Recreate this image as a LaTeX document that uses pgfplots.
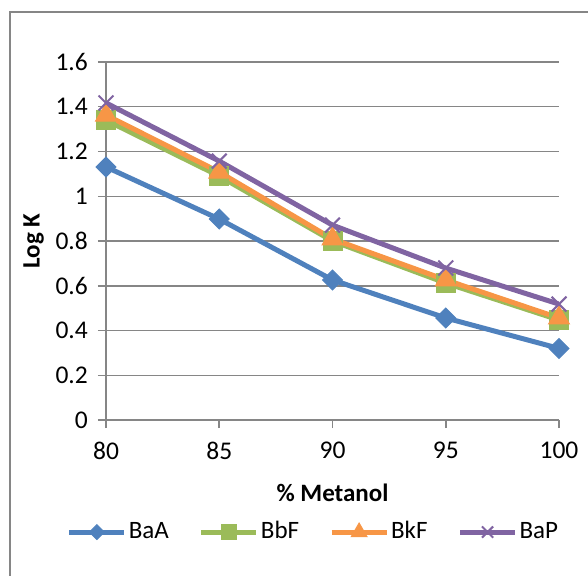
\documentclass[border=0pt]{standalone}
\usepackage{pgfplots}
\pgfplotsset{compat=1.18}
\usepackage{fontspec}
\setmainfont{Carlito}
\definecolor{cA}{HTML}{4F81BD}
\definecolor{cB}{HTML}{9BBB59}
\definecolor{cK}{HTML}{F79646}
\definecolor{cP}{HTML}{8064A2}
\definecolor{gridc}{HTML}{868686}
\begin{document}
\fontsize{25bp}{30bp}\selectfont
\begin{tikzpicture}
\useasboundingbox (-106bp,-156bp) rectangle (482bp,420bp);
\begin{axis}[
  at={(0bp,0bp)}, anchor=south west,
  scale only axis, width=453bp, height=358bp,
  xmin=80, xmax=100, ymin=0, ymax=1.6,
  xtick={80,85,90,95,100},
  ytick={0,0.2,0.4,0.6,0.8,1,1.2,1.4,1.6},
  yticklabels={0,0.2,0.4,0.6,0.8,1,1.2,1.4,1.6},
  /pgf/number format/assume math mode=true,
  axis lines*=left,
  axis line style={gridc, line width=1.5bp},
  ymajorgrids, grid style={gridc, line width=1.5bp},
  tick align=outside, major tick length=8bp,
  tick style={gridc, line width=1.5bp},
  tick label style={font=\fontsize{25.5bp}{30bp}\selectfont},
  yticklabel style={inner sep=0pt, xshift=-10bp},
  xticklabel style={inner sep=0pt, yshift=-14bp},
  xlabel={\textbf{\% Metanol}},
  ylabel={\textbf{Log K}},
  label style={font=\fontsize{25bp}{30bp}\selectfont},
  xlabel style={at={(axis description cs:0.5,-0.204)}, anchor=center},
  ylabel style={at={(axis description cs:-0.16,0.5)}, anchor=center},
  legend columns=4,
  legend style={draw=none, fill=none, at={(axis description cs:0.458,-0.313)}, anchor=center,
    font=\fontsize{25bp}{30bp}\selectfont,
    nodes={inner sep=2bp},
    /tikz/every even column/.append style={column sep=28bp}},
  legend cell align=left,
  legend image code/.code={
    \draw[#1, mark=none] (0bp,0bp) -- (55bp,0bp);
    \draw[#1, every mark/.append style={scale=0.75}] plot coordinates {(27.5bp,0bp)};
  },
]
\addplot[cA, line width=5bp, mark=square*, mark size=7bp, mark options={rotate=45, line width=1bp}]
  coordinates {(80,1.131) (85,0.898) (90,0.626) (95,0.456) (100,0.320)};
\addlegendentry{BaA}
\addplot[cB, line width=5bp, mark=square*, mark size=9.5bp, mark options={line width=1bp}]
  coordinates {(80,1.340) (85,1.090) (90,0.800) (95,0.612) (100,0.447)};
\addlegendentry{BbF}
\addplot[cK, line width=5bp, mark=triangle*, mark size=12bp, mark options={line width=1bp}]
  coordinates {(80,1.363) (85,1.108) (90,0.809) (95,0.626) (100,0.456)};
\addlegendentry{BkF}
\addplot[cP, line width=5bp, mark=x, mark size=10.5bp, mark options={line width=2bp}]
  coordinates {(80,1.417) (85,1.157) (90,0.871) (95,0.679) (100,0.518)};
\addlegendentry{BaP}
\end{axis}
\draw[gridc, line width=1.5bp] (-96bp,-170bp) -- (-96bp,408bp) -- (500bp,408bp);
\end{tikzpicture}
\end{document}
